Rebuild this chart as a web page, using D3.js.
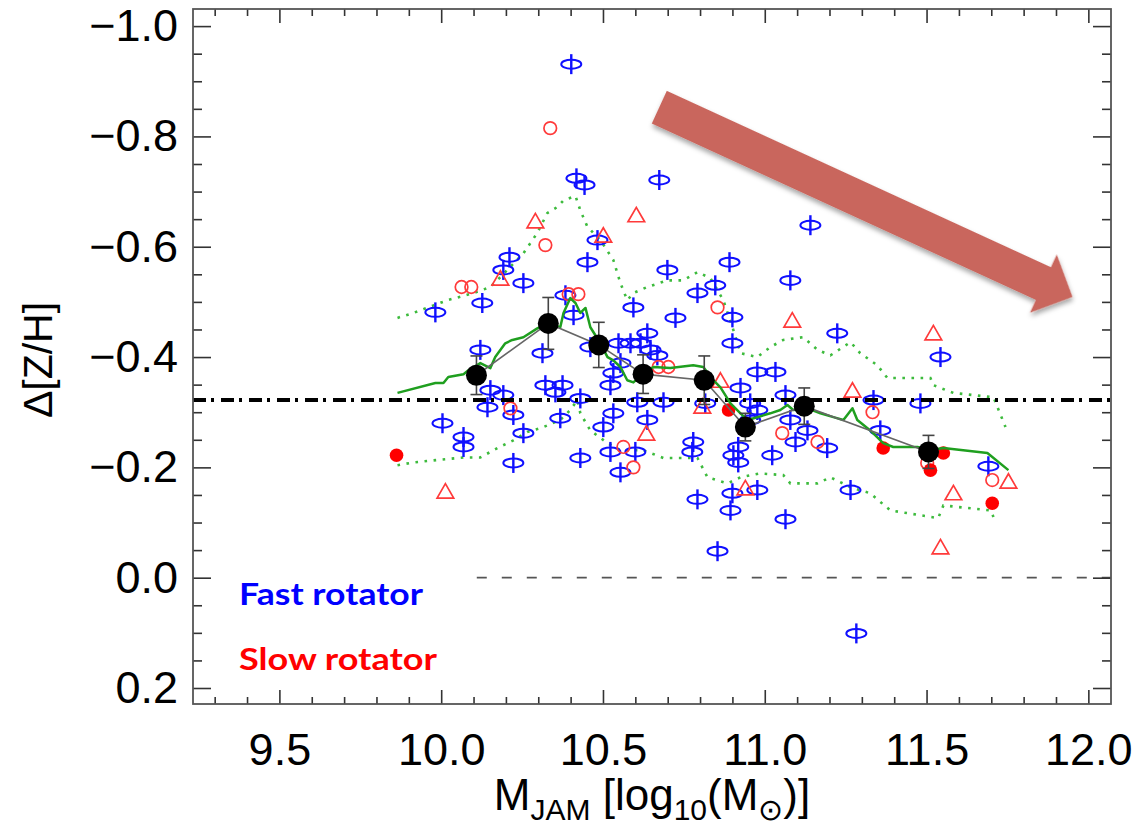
<!DOCTYPE html>
<html>
<head>
<meta charset="utf-8">
<script src="https://cdn.jsdelivr.net/npm/d3@7"></script>
<style>
  body { margin: 0; background: #fff; }
  svg { display: block; }
</style>
</head>
<body>
<svg id="chart" width="1137" height="829"></svg>
<script>
// ---- axis ticks ----
const xMajor = [9.5, 10.0, 10.5, 11.0, 11.5, 12.0];
const yMajor = [-1.0, -0.8, -0.6, -0.4, -0.2, 0.0, 0.2];

// ---- individual galaxies: [log10 M_JAM, Δ[Z/H]] ----
const fastRotators = [
  [10.402,-0.931],[10.418,-0.724],[10.443,-0.712],[10.674,-0.721],[11.141,-0.639],
  [10.483,-0.612],[10.452,-0.572],[10.211,-0.581],[10.192,-0.558],[10.254,-0.534],
  [10.699,-0.558],[10.127,-0.498],[9.982,-0.481],[10.594,-0.490],[10.724,-0.471],
  [10.384,-0.512],[10.409,-0.476],[10.121,-0.413],[10.313,-0.407],[10.461,-0.418],
  [10.548,-0.425],[10.585,-0.425],[10.616,-0.425],[10.637,-0.443],[10.647,-0.413],
  [10.668,-0.403],[10.554,-0.389],[10.532,-0.371],[10.523,-0.349],[10.322,-0.349],
  [10.375,-0.349],[10.353,-0.336],[10.430,-0.325],[10.152,-0.340],[10.192,-0.331],
  [10.143,-0.309],[10.223,-0.295],[10.368,-0.289],[10.254,-0.262],[10.004,-0.280],
  [10.069,-0.255],[10.069,-0.237],[10.223,-0.208],[10.430,-0.217],[10.532,-0.298],
  [10.501,-0.273],[10.637,-0.286],[10.687,-0.318],[10.606,-0.318],[10.523,-0.228],
  [10.600,-0.228],[10.554,-0.191],[10.891,-0.572],[10.792,-0.516],[10.847,-0.530],
  [11.079,-0.539],[10.900,-0.472],[11.224,-0.443],[10.900,-0.425],[11.543,-0.400],
  [10.977,-0.373],[11.033,-0.373],[10.925,-0.344],[10.816,-0.316],[10.955,-0.316],
  [11.064,-0.331],[11.336,-0.322],[11.481,-0.316],[10.977,-0.304],[10.955,-0.286],
  [11.079,-0.286],[11.132,-0.267],[11.095,-0.246],[11.193,-0.235],[11.357,-0.267],
  [10.779,-0.246],[10.776,-0.228],[10.918,-0.237],[10.903,-0.222],[10.918,-0.209],
  [11.023,-0.222],[10.900,-0.153],[10.977,-0.159],[11.265,-0.159],[10.792,-0.142],
  [11.691,-0.202],[10.894,-0.122],[11.064,-0.106],[10.854,-0.048],[11.283,0.101]
];
const slowOpenCircles = [
  [10.337,-0.815],[10.322,-0.603],[10.214,-0.307],[10.563,-0.237],[10.594,-0.200],
  [10.854,-0.490],[11.333,-0.300],[11.054,-0.262],[11.163,-0.246],[11.502,-0.208],
  [11.703,-0.177],
  [10.063,-0.527],[10.093,-0.527],[10.394,-0.514],[10.424,-0.514],[10.672,-0.382],[10.702,-0.382]
];
const slowTriangles = [
  [10.291,-0.643],[10.603,-0.654],[10.501,-0.617],[10.183,-0.539],[10.634,-0.258],
  [10.013,-0.153],[11.085,-0.463],[11.521,-0.440],[10.863,-0.354],[10.807,-0.307],
  [11.271,-0.336],[10.940,-0.159],[11.583,-0.150],[11.753,-0.171],[11.543,-0.052]
];
const slowFilled = [
  [9.862,-0.222],[10.888,-0.304],[11.366,-0.235],[11.552,-0.226],[11.512,-0.195],[11.703,-0.135]
];

// ---- binned means with errors ----
const binMass = [10.109, 10.331, 10.487, 10.624, 10.813, 10.940, 11.122, 11.506];
const binZH   = [-0.367, -0.461, -0.422, -0.369, -0.358, -0.273, -0.311, -0.228];
const binErr  = [0.035, 0.047, 0.041, 0.035, 0.044, 0.025, 0.033, 0.030];

// ---- running median and its envelope ----
const runningMedian = [
  [9.865,-0.335],[9.982,-0.353],[10.007,-0.353],[10.022,-0.364],[10.069,-0.369],
  [10.084,-0.376],[10.121,-0.389],[10.152,-0.380],[10.167,-0.400],[10.198,-0.425],
  [10.220,-0.431],[10.254,-0.436],[10.297,-0.452],[10.328,-0.461],[10.368,-0.454],
  [10.378,-0.480],[10.399,-0.507],[10.415,-0.498],[10.430,-0.480],[10.446,-0.489],
  [10.461,-0.454],[10.492,-0.425],[10.514,-0.400],[10.532,-0.394],[10.554,-0.382],
  [10.575,-0.358],[10.594,-0.354],[10.625,-0.371],[10.656,-0.382],[10.708,-0.380],
  [10.779,-0.385],[10.810,-0.382],[10.841,-0.358],[10.863,-0.345],[10.894,-0.316],
  [10.925,-0.298],[10.946,-0.286],[10.977,-0.291],[11.017,-0.298],[11.048,-0.304],
  [11.070,-0.313],[11.088,-0.304],[11.132,-0.307],[11.172,-0.298],[11.212,-0.291],
  [11.243,-0.286],[11.271,-0.307],[11.286,-0.286],[11.326,-0.267],[11.366,-0.244],
  [11.397,-0.237],[11.472,-0.237],[11.512,-0.231],[11.552,-0.235],[11.688,-0.226],
  [11.753,-0.195]
];
const upperEnvelope = [
  [9.865,-0.471],[9.914,-0.480],[10.019,-0.503],[10.100,-0.516],[10.152,-0.527],
  [10.183,-0.545],[10.254,-0.588],[10.297,-0.625],[10.328,-0.661],[10.359,-0.672],
  [10.378,-0.684],[10.415,-0.692],[10.430,-0.666],[10.452,-0.636],[10.492,-0.612],
  [10.532,-0.576],[10.554,-0.534],[10.575,-0.503],[10.594,-0.516],[10.637,-0.527],
  [10.699,-0.539],[10.748,-0.539],[10.792,-0.554],[10.832,-0.543],[10.872,-0.503],
  [10.903,-0.449],[10.925,-0.407],[10.977,-0.400],[11.017,-0.418],[11.057,-0.431],
  [11.119,-0.436],[11.163,-0.413],[11.203,-0.403],[11.265,-0.427],[11.295,-0.407],
  [11.348,-0.385],[11.379,-0.362],[11.512,-0.362],[11.521,-0.349],[11.583,-0.335],
  [11.707,-0.327],[11.744,-0.273]
];
const lowerEnvelope = [
  [9.865,-0.204],[9.914,-0.209],[10.069,-0.218],[10.121,-0.218],[10.174,-0.235],
  [10.223,-0.249],[10.266,-0.264],[10.316,-0.273],[10.368,-0.286],[10.399,-0.304],
  [10.421,-0.322],[10.430,-0.298],[10.461,-0.267],[10.514,-0.244],[10.554,-0.231],
  [10.625,-0.231],[10.687,-0.217],[10.792,-0.217],[10.823,-0.182],[10.885,-0.171],
  [10.925,-0.182],[10.986,-0.189],[11.057,-0.186],[11.079,-0.171],[11.163,-0.171],
  [11.203,-0.182],[11.265,-0.164],[11.326,-0.153],[11.388,-0.122],[11.536,-0.108],
  [11.552,-0.131],[11.697,-0.122],[11.707,-0.110]
];

// ---- reference levels ----
const meanLevel = -0.322;
const zeroLevel = 0.0;
const zeroLineStart = 10.11;

// ---- trend arrow (start, tip) ----
const trendFrom = [10.674, -0.853];
const trendTo   = [11.951, -0.509];

// ---- legend ----
const legendItems = [
  { label: "Fast rotator", color: "#0000ff", width: 184 },
  { label: "Slow rotator", color: "#ff0000", width: 198 }
];

// ================= drawing =================
const svg = d3.select("#chart");
const m = { left: 193, right: 1111, top: 9, bottom: 704 };
const FONT = "'Liberation Sans', Arial, Helvetica, sans-serif";

const x = d3.scaleLinear().domain([9.233, 12.07]).range([m.left, m.right]);
const y = d3.scaleLinear().domain([0.229, -1.031]).range([m.bottom, m.top]);

const defs = svg.append("defs");
const shadow = defs.append("filter").attr("id", "shadow")
  .attr("x", "-10%").attr("y", "-10%").attr("width", "130%").attr("height", "140%");
shadow.append("feDropShadow").attr("dx", 2).attr("dy", 3)
  .attr("stdDeviation", 2.5).attr("flood-color", "#000").attr("flood-opacity", 0.35);

const clip = defs.append("clipPath").attr("id", "plotclip");
clip.append("rect").attr("x", m.left).attr("y", m.top)
  .attr("width", m.right - m.left).attr("height", m.bottom - m.top);

const plot = svg.append("g").attr("clip-path", "url(#plotclip)");

// zero line (dashed)
plot.append("line")
  .attr("x1", x(zeroLineStart)).attr("x2", m.right)
  .attr("y1", y(zeroLevel)).attr("y2", y(zeroLevel))
  .attr("stroke", "#555").attr("stroke-width", 1.8)
  .attr("stroke-dasharray", "10,15");

// envelopes (dotted green)
const line = d3.line().x(d => x(d[0])).y(d => y(d[1]));
[upperEnvelope, lowerEnvelope].forEach(env => {
  plot.append("path").attr("d", line(env))
    .attr("fill", "none").attr("stroke", "#3dbb3d")
    .attr("stroke-width", 2.6).attr("stroke-dasharray", "2.6,6.5");
});

// fast rotators: disc symbol (ellipse with vertical axis)
const fr = plot.append("g").attr("stroke", "#1010ff").attr("fill", "none");
fastRotators.forEach(d => {
  const cx = x(d[0]), cy = y(d[1]);
  fr.append("ellipse").attr("cx", cx).attr("cy", cy).attr("rx", 10).attr("ry", 4.5)
    .attr("stroke-width", 2);
  fr.append("line").attr("x1", cx).attr("x2", cx).attr("y1", cy - 10).attr("y2", cy + 10)
    .attr("stroke-width", 2.4);
});

// slow rotators
const sr = plot.append("g");
sr.selectAll("circle.open").data(slowOpenCircles).join("circle")
  .attr("class", "open")
  .attr("cx", d => x(d[0])).attr("cy", d => y(d[1])).attr("r", 6.3)
  .attr("fill", "none").attr("stroke", "#ff3a3a").attr("stroke-width", 1.7);
const tri = d3.symbol().type(d3.symbolTriangle).size(120);
sr.selectAll("path.tri").data(slowTriangles).join("path")
  .attr("class", "tri")
  .attr("d", tri)
  .attr("transform", d => `translate(${x(d[0])},${y(d[1])})`)
  .attr("fill", "none").attr("stroke", "#ff3a3a").attr("stroke-width", 1.7);
sr.selectAll("circle.filled").data(slowFilled).join("circle")
  .attr("class", "filled")
  .attr("cx", d => x(d[0])).attr("cy", d => y(d[1])).attr("r", 6.8)
  .attr("fill", "#ff0000");

// mean level (dash-dot)
plot.append("line")
  .attr("x1", m.left).attr("x2", m.right)
  .attr("y1", y(meanLevel)).attr("y2", y(meanLevel))
  .attr("stroke", "#000").attr("stroke-width", 4)
  .attr("stroke-dasharray", "13,5,3,7");

// running median (solid green)
plot.append("path").attr("d", line(runningMedian))
  .attr("fill", "none").attr("stroke", "#1f9f1f").attr("stroke-width", 2.5)
  .attr("stroke-linejoin", "round");

// binned means
const bins = binMass.map((mv, i) => ({ m: mv, z: binZH[i], e: binErr[i] }));
plot.append("path").attr("d", line(bins.map(b => [b.m, b.z])))
  .attr("fill", "none").attr("stroke", "#666").attr("stroke-width", 1.6);
const eb = plot.append("g").attr("stroke", "#444").attr("stroke-width", 1.6);
bins.forEach(b => {
  const cx = x(b.m);
  eb.append("line").attr("x1", cx).attr("x2", cx).attr("y1", y(b.z - b.e)).attr("y2", y(b.z + b.e));
  eb.append("line").attr("x1", cx - 6).attr("x2", cx + 6).attr("y1", y(b.z - b.e)).attr("y2", y(b.z - b.e));
  eb.append("line").attr("x1", cx - 6).attr("x2", cx + 6).attr("y1", y(b.z + b.e)).attr("y2", y(b.z + b.e));
});
plot.selectAll("circle.bin").data(bins).join("circle")
  .attr("class", "bin")
  .attr("cx", b => x(b.m)).attr("cy", b => y(b.z)).attr("r", 10.5)
  .attr("fill", "#000");

// ---- axes ----
const fmt = d3.format(".1f");
const xMinor = d3.range(93, 121).map(v => v / 10).filter(v => !xMajor.some(t => Math.abs(t - v) < 1e-6));
const yMinor = d3.range(-20, 5).map(v => v / 20).filter(v => !yMajor.some(t => Math.abs(t - v) < 1e-6));

function styleAxis(g) {
  g.select(".domain").remove();
  g.selectAll(".tick line").attr("stroke", "#333").attr("stroke-width", 1.6);
  g.selectAll(".tick text").attr("fill", "#000").style("font-family", FONT).style("font-size", "45px");
}

svg.append("g").attr("transform", `translate(0,${m.bottom})`)
  .call(d3.axisBottom(x).tickValues(xMajor).tickSize(-14).tickPadding(29).tickFormat(fmt))
  .call(styleAxis);
svg.append("g").attr("transform", `translate(0,${m.bottom})`)
  .call(d3.axisBottom(x).tickValues(xMinor).tickSize(-7).tickFormat(""))
  .call(styleAxis);
svg.append("g").attr("transform", `translate(0,${m.top})`)
  .call(d3.axisTop(x).tickValues(xMajor).tickSize(-14).tickFormat(""))
  .call(styleAxis);
svg.append("g").attr("transform", `translate(0,${m.top})`)
  .call(d3.axisTop(x).tickValues(xMinor).tickSize(-7).tickFormat(""))
  .call(styleAxis);

svg.append("g").attr("transform", `translate(${m.left},0)`)
  .call(d3.axisLeft(y).tickValues(yMajor).tickSize(-18).tickPadding(15).tickFormat(fmt))
  .call(styleAxis);
svg.append("g").attr("transform", `translate(${m.left},0)`)
  .call(d3.axisLeft(y).tickValues(yMinor).tickSize(-9).tickFormat(""))
  .call(styleAxis);
svg.append("g").attr("transform", `translate(${m.right},0)`)
  .call(d3.axisRight(y).tickValues(yMajor).tickSize(-18).tickFormat(""))
  .call(styleAxis);
svg.append("g").attr("transform", `translate(${m.right},0)`)
  .call(d3.axisRight(y).tickValues(yMinor).tickSize(-9).tickFormat(""))
  .call(styleAxis);

// frame
svg.append("rect").attr("x", m.left).attr("y", m.top)
  .attr("width", m.right - m.left).attr("height", m.bottom - m.top)
  .attr("fill", "none").attr("stroke", "#555").attr("stroke-width", 1.8);

// axis titles
svg.append("text")
  .attr("transform", `translate(52,360) rotate(-90)`)
  .attr("text-anchor", "middle")
  .style("font-family", FONT).style("font-size", "41px")
  .text("Δ[Z/H]");

const xt = svg.append("text")
  .attr("x", 652).attr("y", 810)
  .attr("text-anchor", "middle")
  .style("font-family", FONT).style("font-size", "44px");
xt.append("tspan").text("M");
xt.append("tspan").attr("dy", 10).style("font-size", "30px").text("JAM");
xt.append("tspan").attr("dy", -10).text(" [log");
xt.append("tspan").attr("dy", 10).style("font-size", "30px").text("10");
xt.append("tspan").attr("dy", -10).text("(M");
xt.append("tspan").attr("dy", 10).style("font-size", "30px").text("⊙");
xt.append("tspan").attr("dy", -10).text(")]");

// legend
legendItems.forEach((it, i) => {
  svg.append("text")
    .attr("x", 239).attr("y", 605 + i * 65)
    .attr("fill", it.color)
    .attr("textLength", it.width).attr("lengthAdjust", "spacingAndGlyphs")
    .style("font-family", "Lato, 'Open Sans', sans-serif")
    .style("font-weight", "bold").style("font-size", "31px")
    .text(it.label);
});

// trend arrow
(function drawArrow() {
  const x0 = x(trendFrom[0]), y0 = y(trendFrom[1]);
  const x1 = x(trendTo[0]), y1 = y(trendTo[1]);
  const L = Math.hypot(x1 - x0, y1 - y0);
  const ang = Math.atan2(y1 - y0, x1 - x0) * 180 / Math.PI;
  const hw = 18, headW = 32, headL = 32;
  const pts = [[0, -hw], [L - headL, -hw], [L - headL, -headW], [L, 0],
               [L - headL, headW], [L - headL, hw], [0, hw]];
  svg.append("path")
    .attr("d", d3.line()(pts) + "Z")
    .attr("transform", `translate(${x0},${y0}) rotate(${ang})`)
    .attr("fill", "#c9665d")
    .attr("filter", "url(#shadow)");
})();
</script>
</body>
</html>
